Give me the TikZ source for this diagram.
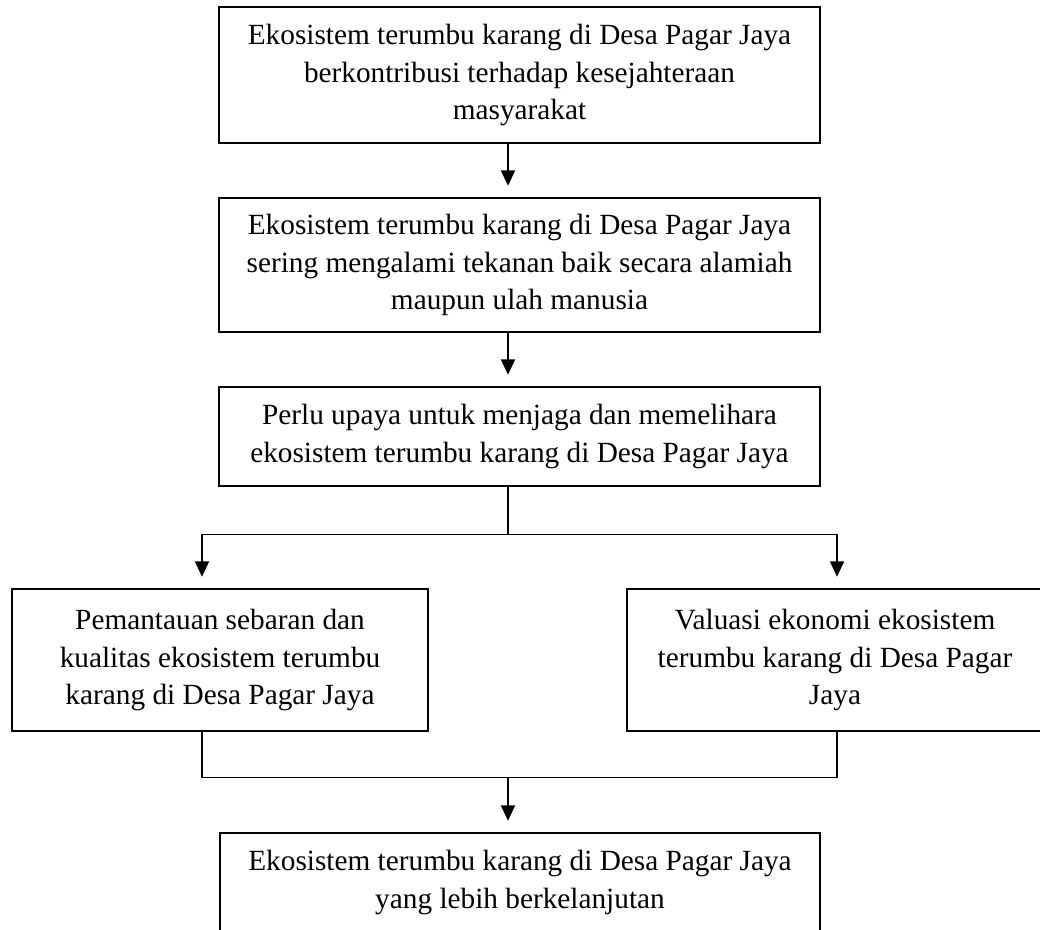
\documentclass[tikz,border=0pt]{standalone}
\usepackage{fontspec}
\setmainfont{Liberation Serif}
\usetikzlibrary{arrows.meta}

\tikzset{
	kotak/.style={draw, line width=0.8pt, align=center, inner sep=0pt, font=\fontsize{12.5}{16}\selectfont},
	garis/.style={line width=0.7pt},
	panah/.style={garis, -{Triangle[length=0.23cm,width=0.21cm]}, shorten >=0.17cm}
}

\begin{document}
\begin{tikzpicture}
		
		\useasboundingbox (0,0) rectangle (15.6,-13.935);
		\clip (0,0) rectangle (15.6,-13.935);
		
		% kotak
		\node[kotak, minimum width=9.015cm, minimum height=2.04cm] (b1) at (7.7925,-1.125) {Ekosistem terumbu karang di Desa Pagar Jaya\\berkontribusi terhadap kesejahteraan\\masyarakat};
		\node[kotak, minimum width=9.015cm, minimum height=2.01cm] (b2) at (7.7925,-3.975) {Ekosistem terumbu karang di Desa Pagar Jaya\\sering mengalami tekanan baik secara alamiah\\maupun ulah manusia};
		\node[kotak, minimum width=9.015cm, minimum height=1.485cm] (b3) at (7.7925,-6.5475) {Perlu upaya untuk menjaga dan memelihara\\ekosistem terumbu karang di Desa Pagar Jaya};
		\node[kotak, minimum width=6.24cm, minimum height=2.13cm] (b4) at (3.3,-9.9) {Pemantauan sebaran dan\\kualitas ekosistem terumbu\\karang di Desa Pagar Jaya};
		\node[kotak, minimum width=6.24cm, minimum height=2.13cm] (b5) at (12.525,-9.9) {Valuasi ekonomi ekosistem\\terumbu karang di Desa Pagar\\Jaya};
		\node[kotak, minimum width=9.0cm, minimum height=1.485cm] (b6) at (7.8,-13.2375) {Ekosistem terumbu karang di Desa Pagar Jaya\\yang lebih berkelanjutan};
		
		% titik bantu
		\coordinate (tengah) at (7.62,0);
		\coordinate (kiri) at (3.03,0);
		\coordinate (kanan) at (12.555,0);
		\coordinate (cabang) at (7.62,-8.0175);
		\coordinate (gabung) at (7.62,-11.6625);
		
		% panah
		\draw[panah] (b1.south -| tengah) -- (b2.north -| tengah);
		\draw[panah] (b2.south -| tengah) -- (b3.north -| tengah);
		\draw[garis] (b3.south -| tengah) -- (cabang);
		\draw[panah] (cabang) -| (b4.north -| kiri);
		\draw[panah] (cabang) -| (b5.north -| kanan);
		\draw[garis] (b4.south -| kiri) |- (gabung);
		\draw[garis] (b5.south -| kanan) |- (gabung);
		\draw[panah] (gabung) -- (b6.north -| tengah);
		
	\end{tikzpicture}
\end{document}
